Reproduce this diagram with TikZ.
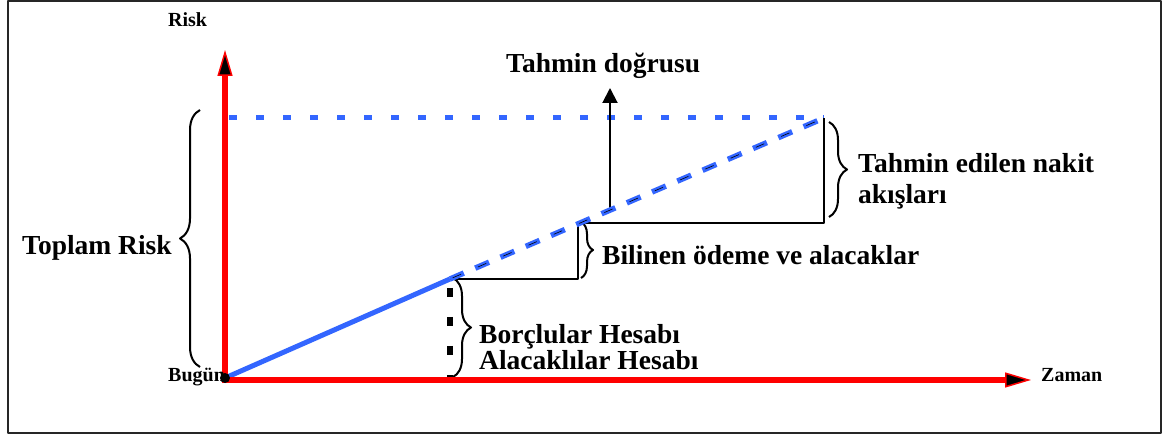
\documentclass[tikz,border=0pt]{standalone}
\usepackage{fontspec}
\setmainfont{Liberation Serif}
\usetikzlibrary{arrows.meta,decorations.pathreplacing}

\begin{document}
\begin{tikzpicture}[
    x=1pt, y=1pt,
    every node/.style={inner sep=0pt, anchor=base west},
    line join=round,
    small/.style={font=\fontsize{20}{22}\selectfont\bfseries},
    big/.style={font=\fontsize{27.5}{30}\selectfont\bfseries},
    axis/.style={draw=axisred, line width=6pt,
        -{Triangle[length=26pt, width=15pt, fill=black, line width=1.5pt]}},
    curly/.style={decorate, decoration={brace, amplitude=#1}, line width=2pt}
]

% Colors
\definecolor{axisred}{RGB}{255,0,0}
\definecolor{trendblue}{RGB}{51,102,255}

\useasboundingbox (0,0) rectangle (1163,437);

% ----------------------------------------------------
% Frame
% ----------------------------------------------------
\draw[line width=2pt, black!85] (8,4) rectangle (1161,436);

% ----------------------------------------------------
% Key points
% ----------------------------------------------------
\coordinate (O)  at (225,59);
\coordinate (E)  at (824,319);
\coordinate (P1) at (450,158);
\coordinate (P2) at (578,158);
\coordinate (P3) at (578,214);
\coordinate (P4) at (824,214);
\coordinate (ytop) at (225,387);
\coordinate (ybot) at (225,54);
\coordinate (xleft) at (222,57);
\coordinate (xright) at (1031,57);
\coordinate (hstart) at (229,319);
\coordinate (dtop) at (450,149);
\coordinate (dbot) at (450,58);
\coordinate (abot) at (610,224);
\coordinate (atop) at (610,349);

% ----------------------------------------------------
% Total risk level and steps
% ----------------------------------------------------
\draw[trendblue, line width=5pt, dash pattern=on 8pt off 19pt] (hstart) -- (E);

\draw[line width=2.5pt] (P1) -- (P2) -- (P3) -- (P4) -- (E);
\draw[line width=6pt, dash pattern=on 9pt off 20pt] (dtop) -- (dbot);

% forecast arrow
\draw[line width=2pt, -{Triangle[length=15pt, width=15pt]}] (abot) -- (atop);

% ----------------------------------------------------
% Braces
% ----------------------------------------------------
\draw[curly=20pt] (200,70) -- (200,327);
\draw[curly=18pt] (453,159) -- (453,60);
\draw[curly=12pt] (581,215) -- (581,159);
\draw[curly=18pt] (829,315) -- (829,220);

% ----------------------------------------------------
% Trend line
% ----------------------------------------------------
\draw[trendblue, line width=5pt] (O) -- (P1);
\draw[trendblue, line width=5.5pt, dash pattern=on 15pt off 12.5pt] (P1) -- (E);
\draw[black, line width=0.6pt, dash pattern=on 9pt off 18.5pt, dash phase=24.5pt] (P1) -- (E);

% ----------------------------------------------------
% Axes
% ----------------------------------------------------
\draw[axis] (ybot) -- (ytop);
\draw[axis] (xleft) -- (xright);
\fill[black] (O) circle[radius=5pt];

% ----------------------------------------------------
% Labels
% ----------------------------------------------------
\node[small] (risk)  at (168,410) {Risk};
\node[small] (bugun) at (168,56)  {Bugün};
\node[small] (zaman) at (1041,56) {Zaman};

\node[big] (tahmin)  at (506,364) {Tahmin doğrusu};
\node[big] (toplam)  at (22,182)  {Toplam Risk};
\node[big, font=\fontsize{27.5}{31}\selectfont\bfseries, align=left, anchor=west]
    (nakit) at (858,256) {Tahmin edilen nakit\\akışları};
\node[big] (bilinen) at (602,172) {Bilinen ödeme ve alacaklar};
\node[big, font=\fontsize{27.5}{24}\selectfont\bfseries, align=left, anchor=west]
    (hesap) at (479,90) {Borçlular Hesabı\\Alacaklılar Hesabı};

\end{tikzpicture}
\end{document}
